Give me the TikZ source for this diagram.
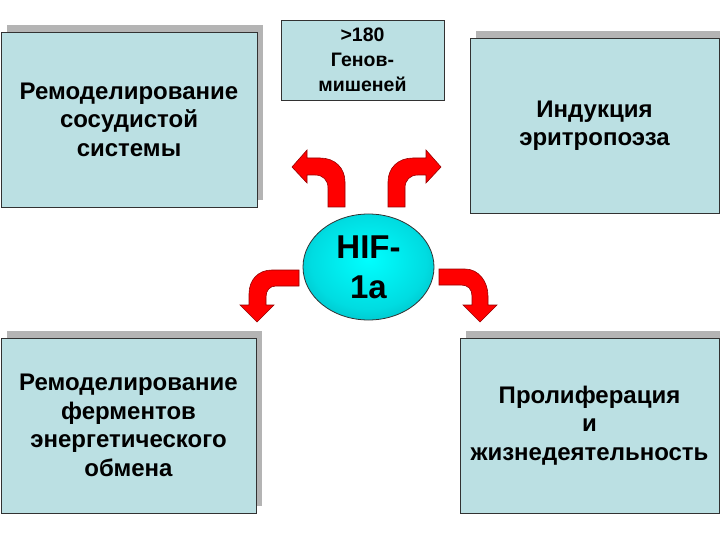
\documentclass[tikz,border=0pt]{standalone}
\usepackage{fontspec}
\setmainfont{Liberation Sans}
\usetikzlibrary{shapes.geometric,shadows}
\definecolor{boxfill}{RGB}{187,224,227}
\definecolor{shadowgray}{RGB}{180,180,180}
\definecolor{boxline}{RGB}{50,50,50}
\definecolor{arrowred}{RGB}{255,0,0}
\definecolor{arrowline}{RGB}{150,0,0}
\definecolor{hifa}{RGB}{0,255,255}
\definecolor{hifb}{RGB}{0,220,225}
\definecolor{hifc}{RGB}{0,160,168}
\definecolor{hifd}{RGB}{0,115,125}
\pgfdeclareradialshading{hifshade}{\pgfpoint{0bp}{4bp}}{%
  color(0bp)=(hifa);
  color(22bp)=(hifb);
  color(40bp)=(hifc);
  color(50bp)=(hifd)}
\tikzset{
  infobox/.style={draw=boxline, line width=0.8pt, fill=boxfill, align=center,
    font=\bfseries\fontsize{24}{28.5}\selectfont, inner sep=0pt},
  shadowed/.style={drop shadow={shadow xshift=6pt, shadow yshift=7pt, fill=shadowgray, opacity=1}},
  blockarrow/.style={fill=arrowred, draw=arrowline, line width=0.6pt, line join=miter},
}
\begin{document}
\begin{tikzpicture}[x=1pt, y=-1pt]
\useasboundingbox (0,0) rectangle (720,540);
% boxes
\node[infobox, shadowed, minimum width=256pt, minimum height=175pt] (vasc) at (129,119.5)
  {Ремоделирование\\сосудистой\\системы};
\node[infobox, shadowed, minimum width=255pt, minimum height=175pt] (energy) at (128.5,425.5)
  {Ремоделирование\\ферментов\\энергетического\\обмена};
\node[infobox, shadowed, minimum width=249pt, minimum height=175pt] (ery) at (594.5,125.5)
  {Индукция\\эритропоэза};
\node[infobox, shadowed, minimum width=259pt, minimum height=175pt] (prolif) at (589.5,425.5)
  {Пролиферация\\и\\жизнедеятельность};
\node[infobox, font=\bfseries\fontsize{19.5}{25}\selectfont, minimum width=163pt, minimum height=80pt] (genes) at (362.5,60)
  {>180\\Генов-\\мишеней};
% block arrows
\path[blockarrow] (328,207) -- (328,188) .. controls (328,180) and (323,175) .. (315,175)
  -- (307,175) -- (307,183) -- (292,167) -- (307,150) -- (307,158) -- (320,158)
  .. controls (335,158) and (345,168) .. (345,182) -- (345,207) -- cycle;
\path[blockarrow] (405,207) -- (405,188) .. controls (405,180) and (410,175) .. (418,175)
  -- (426,175) -- (426,183) -- (441,167) -- (426,150) -- (426,158) -- (413,158)
  .. controls (398,158) and (388,168) .. (388,182) -- (388,207) -- cycle;
\path[blockarrow] (299,270) -- (272,270) .. controls (258,270) and (249,280) .. (249,294)
  -- (249,305) -- (240,305) -- (257,322) -- (274,305) -- (266,305) -- (266,297)
  .. controls (266,290) and (270,286) .. (276,286) -- (299,286) -- cycle;
\path[blockarrow] (439,269) -- (465,269) .. controls (479,269) and (488,282) .. (488,296)
  -- (488,305) -- (497,305) -- (480,322) -- (463,305) -- (472,305) -- (472,296)
  .. controls (472,289) and (468,285) .. (461,285) -- (439,285) -- cycle;
% HIF ellipse
\node[ellipse, draw=boxline, line width=0.8pt, shading=hifshade,
  minimum width=131pt, minimum height=106pt, inner sep=0pt, align=center,
  font=\bfseries\fontsize{33}{40}\selectfont] (hif) at (368.5,267) {HIF-\\1a};
\end{tikzpicture}
\end{document}
